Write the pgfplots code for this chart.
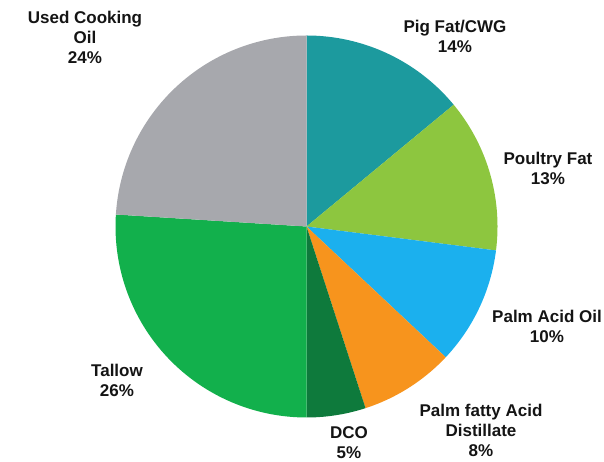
\documentclass[border=0pt]{standalone}
\usepackage{pgfplots}
\pgfplotsset{compat=1.18}
\usepackage{fontspec}
\setmainfont{Liberation Sans}
\definecolor{cpig}{HTML}{1C9A9E}
\definecolor{cpoul}{HTML}{8DC63F}
\definecolor{cpao}{HTML}{1BB0EE}
\definecolor{cpfad}{HTML}{F7941D}
\definecolor{cdco}{HTML}{0E7A3C}
\definecolor{ctal}{HTML}{12B04C}
\definecolor{cuco}{HTML}{A7A8AD}
\begin{document}
\begin{tikzpicture}
% shares in percent, clockwise from 12 o'clock
\def\vPig{14}\def\vPoul{13}\def\vPAO{10}\def\vPFAD{8}\def\vDCO{5}\def\vTal{26}\def\vUCO{24}
\pgfmathsetmacro\tA{90}
\pgfmathsetmacro\tB{\tA-3.6*\vPig}
\pgfmathsetmacro\tC{\tB-3.6*\vPoul}
\pgfmathsetmacro\tD{\tC-3.6*\vPAO}
\pgfmathsetmacro\tE{\tD-3.6*\vPFAD}
\pgfmathsetmacro\tF{\tE-3.6*\vDCO}
\pgfmathsetmacro\tG{\tF-3.6*\vTal}
\pgfmathsetmacro\tH{\tG-3.6*\vUCO}
\begin{axis}[width=604pt,height=462pt,scale only axis,
  xmin=0,xmax=604,ymin=0,ymax=462,hide axis,clip=false]
\newcommand{\slice}[3]{\addplot[fill=#3,draw=none,domain=#1:#2,samples=90,variable=\t]
  ({306.5+191*cos(\t)},{235.5+191*sin(\t)}) -- (axis cs:306.5,235.5) -- cycle;}
\slice{\tB}{\tA}{cpig}
\slice{\tC}{\tB}{cpoul}
\slice{\tD}{\tC}{cpao}
\slice{\tE}{\tD}{cpfad}
\slice{\tF}{\tE}{cdco}
\slice{\tG}{\tF}{ctal}
\slice{\tH}{\tG}{cuco}
\tikzset{lab/.style={align=center,text=black!92,font=\fontsize{17}{20}\selectfont\bfseries,inner sep=0pt}}
\node[lab] at (axis cs:85,425) {Used Cooking\\Oil\\\vUCO\%};
\node[lab] at (axis cs:455,425.5) {Pig Fat/CWG\\\vPig\%};
\node[lab] at (axis cs:548,294) {Poultry Fat\\\vPoul\%};
\node[lab] at (axis cs:547,136) {Palm Acid Oil\\\vPAO\%};
\node[lab] at (axis cs:481,32) {Palm fatty Acid\\Distillate\\\vPFAD\%};
\node[lab] at (axis cs:117,82) {Tallow\\\vTal\%};
\node[lab] at (axis cs:349,19) {DCO\\\vDCO\%};
\end{axis}
\path (0,0) rectangle (604pt,462pt);
\end{tikzpicture}
\end{document}
